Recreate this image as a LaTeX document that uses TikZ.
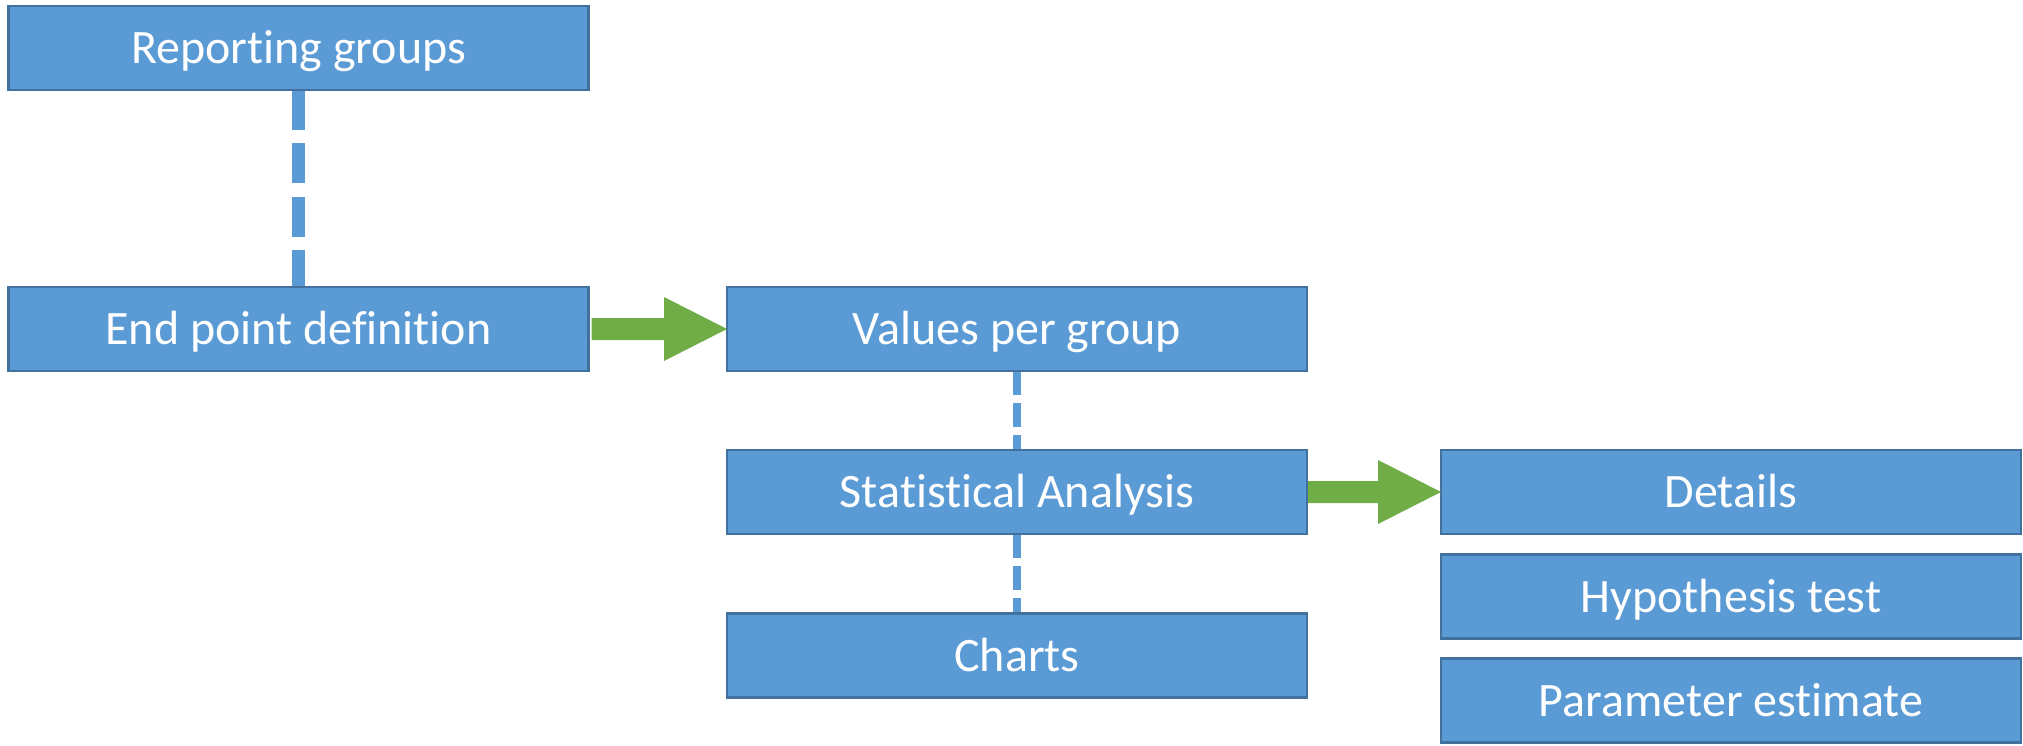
\documentclass[tikz,border=0pt]{standalone}
\usepackage{fontspec}
\setmainfont{Carlito}[Ligatures=NoCommon]
\usetikzlibrary{calc,backgrounds}
\definecolor{boxfill}{HTML}{5B9BD5}
\definecolor{boxline}{HTML}{41719C}
\definecolor{garrow}{HTML}{70AD47}
\begin{document}
\begin{tikzpicture}[x=1pt,y=-1pt,
  blockbox/.style={draw=boxline, fill=boxfill, line width=2.6pt, minimum width=580pt, minimum height=84pt,
    inner sep=0pt, outer sep=0pt, text=white, font=\fontsize{48}{54}\selectfont, text height=31pt, text depth=0pt},
  bigdash/.style={draw=boxfill, line width=13.3pt, dash pattern=on 40pt off 13.3pt},
  smalldash/.style={draw=boxfill, line width=8pt, dash pattern=on 24pt off 8pt},
  greenarrow/.style={fill=garrow}
]
\useasboundingbox (0,0) rectangle (2023,746);
\node[blockbox] (rg) at (298.6,48) {Reporting groups};
\node[blockbox] (epd) at (298.6,329) {End point definition};
\node[blockbox] (vpg) at (1017,329) {Values per group};
\node[blockbox] (sa) at (1017,492) {Statistical Analysis};
\node[blockbox] (ch) at (1017,655.5) {Charts};
\node[blockbox] (det) at (1731,492) {Details};
\node[blockbox] (hyp) at (1731,596.5) {Hypothesis test};
\node[blockbox] (par) at (1731,700.5) {Parameter estimate};
\begin{scope}[on background layer]
\draw[bigdash] (rg.south) -- (epd.north);
\draw[smalldash] (vpg.south) -- (sa.north);
\draw[smalldash] (sa.south) -- (ch.north);
\end{scope}
\fill[greenarrow] ($(epd.east)+(3,-11)$) -- ($(vpg.west)+(-63,-11)$) -- ($(vpg.west)+(-63,-32)$)
  -- (vpg.west) -- ($(vpg.west)+(-63,32)$) -- ($(vpg.west)+(-63,11)$) -- ($(epd.east)+(3,11)$) -- cycle;
\fill[greenarrow] ($(sa.east)+(1,-11)$) -- ($(det.west)+(-63,-11)$) -- ($(det.west)+(-63,-32)$)
  -- (det.west) -- ($(det.west)+(-63,32)$) -- ($(det.west)+(-63,11)$) -- ($(sa.east)+(1,11)$) -- cycle;
\end{tikzpicture}
\end{document}
